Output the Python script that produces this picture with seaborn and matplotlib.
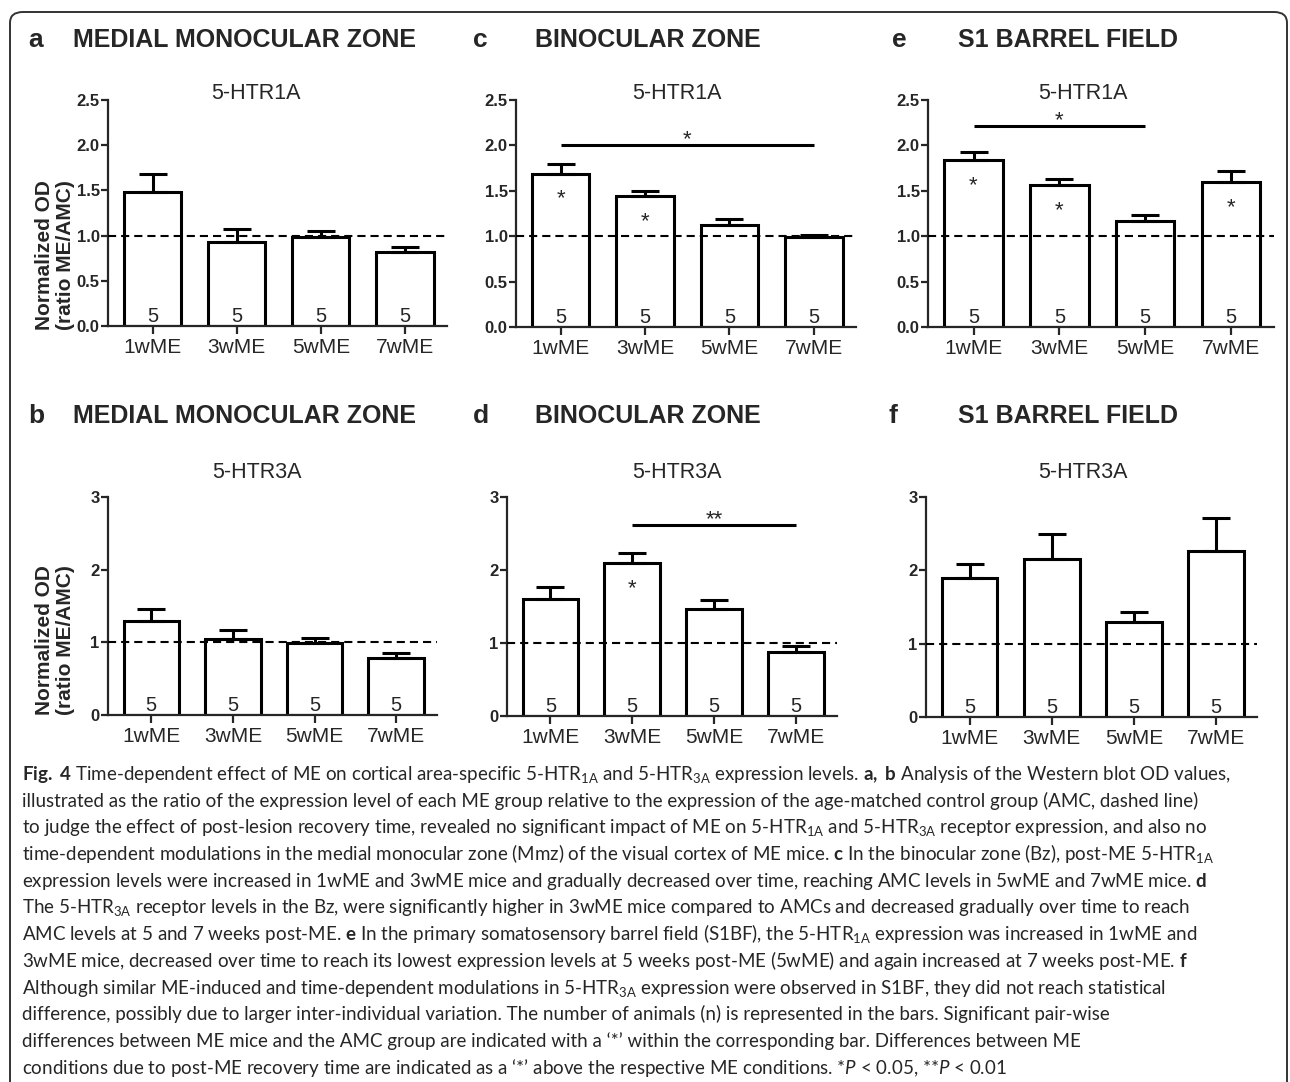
import numpy as np
import matplotlib.pyplot as plt
import seaborn as sns
from matplotlib.patches import FancyBboxPatch

groups = ['1wME', '3wME', '5wME', '7wME']
n_animals = [5, 5, 5, 5]

# 5-HTR1A (top row), normalized OD ratio ME/AMC, mean and SEM
mmz_1a_mean = [1.48, 0.93, 0.99, 0.82]
mmz_1a_sem = [0.20, 0.14, 0.065, 0.057]
bz_1a_mean = [1.69, 1.44, 1.12, 0.99]
bz_1a_sem = [0.105, 0.06, 0.065, 0.02]
s1_1a_mean = [1.84, 1.56, 1.17, 1.60]
s1_1a_sem = [0.09, 0.075, 0.063, 0.12]

# 5-HTR3A (bottom row)
mmz_3a_mean = [1.30, 1.04, 0.99, 0.79]
mmz_3a_sem = [0.165, 0.13, 0.07, 0.06]
bz_3a_mean = [1.60, 2.10, 1.46, 0.88]
bz_3a_sem = [0.17, 0.13, 0.135, 0.077]
s1_3a_mean = [1.90, 2.15, 1.30, 2.27]
s1_3a_sem = [0.19, 0.34, 0.135, 0.44]

# bars with a '*' (ME vs AMC)
bz_1a_sig = [0, 1]
s1_1a_sig = [0, 1, 3]
bz_3a_sig = [1]

# recovery time comparisons: first bar, last bar, level, label
bz_1a_bracket = (0, 3, 2.0, '*')
s1_1a_bracket = (0, 2, 2.21, '*')
bz_3a_bracket = (1, 3, 2.61, '**')

caption = [
    r"$\mathbf{Fig.\ 4}$ Time-dependent effect of ME on cortical area-specific 5-HTR$_{\mathregular{1A}}$ and 5-HTR$_{\mathregular{3A}}$ expression levels. $\mathbf{a,\ b}$ Analysis of the Western blot OD values,",
    "illustrated as the ratio of the expression level of each ME group relative to the expression of the age-matched control group (AMC, dashed line)",
    r"to judge the effect of post-lesion recovery time, revealed no significant impact of ME on 5-HTR$_{\mathregular{1A}}$ and 5-HTR$_{\mathregular{3A}}$ receptor expression, and also no",
    r"time-dependent modulations in the medial monocular zone (Mmz) of the visual cortex of ME mice. $\mathbf{c}$ In the binocular zone (Bz), post-ME 5-HTR$_{\mathregular{1A}}$",
    r"expression levels were increased in 1wME and 3wME mice and gradually decreased over time, reaching AMC levels in 5wME and 7wME mice. $\mathbf{d}$",
    r"The 5-HTR$_{\mathregular{3A}}$ receptor levels in the Bz, were significantly higher in 3wME mice compared to AMCs and decreased gradually over time to reach",
    r"AMC levels at 5 and 7 weeks post-ME. $\mathbf{e}$ In the primary somatosensory barrel field (S1BF), the 5-HTR$_{\mathregular{1A}}$ expression was increased in 1wME and",
    r"3wME mice, decreased over time to reach its lowest expression levels at 5 weeks post-ME (5wME) and again increased at 7 weeks post-ME. $\mathbf{f}$",
    r"Although similar ME-induced and time-dependent modulations in 5-HTR$_{\mathregular{3A}}$ expression were observed in S1BF, they did not reach statistical",
    "difference, possibly due to larger inter-individual variation. The number of animals (n) is represented in the bars. Significant pair-wise",
    "differences between ME mice and the AMC group are indicated with a \u2018*\u2019 within the corresponding bar. Differences between ME",
    "conditions due to post-ME recovery time are indicated as a \u2018*\u2019 above the respective ME conditions. *$\\mathit{P}$ < 0.05, **$\\mathit{P}$ < 0.01",
]

sns.set_style('ticks')
plt.rcParams['font.family'] = ['Liberation Sans', 'DejaVu Sans']
plt.rcParams['mathtext.fontset'] = 'custom'
plt.rcParams['mathtext.rm'] = 'Lato'
plt.rcParams['mathtext.bf'] = 'Lato:bold'
plt.rcParams['mathtext.it'] = 'Lato:italic'

W, H = 1290, 1082
fig = plt.figure(figsize=(W / 100, H / 100), dpi=100)


def fx(x):
    return x / W


def fy(y):
    return 1 - y / H


# letter, title, receptor, mean, sem, sig, bracket, box (px), ymax, title x, letter x, subtitle x, row
panels = [
    ('a', 'MEDIAL MONOCULAR ZONE', '5-HTR1A', mmz_1a_mean, mmz_1a_sem, [], None, (108, 447, 100, 326), 2.5, 73, 28, 256, 0),
    ('c', 'BINOCULAR ZONE', '5-HTR1A', bz_1a_mean, bz_1a_sem, bz_1a_sig, bz_1a_bracket, (516, 856, 100, 327), 2.5, 535, 473, 677, 0),
    ('e', 'S1 BARREL FIELD', '5-HTR1A', s1_1a_mean, s1_1a_sem, s1_1a_sig, s1_1a_bracket, (928, 1274, 100, 327), 2.5, 958, 892, 1083, 0),
    ('b', 'MEDIAL MONOCULAR ZONE', '5-HTR3A', mmz_3a_mean, mmz_3a_sem, [], None, (108, 437, 497, 715), 3, 73, 28, 257, 1),
    ('d', 'BINOCULAR ZONE', '5-HTR3A', bz_3a_mean, bz_3a_sem, bz_3a_sig, bz_3a_bracket, (507, 837, 497, 716), 3, 535, 473, 677, 1),
    ('f', 'S1 BARREL FIELD', '5-HTR3A', s1_3a_mean, s1_3a_sem, [], None, (926, 1257, 497, 717), 3, 958, 888, 1083, 1),
]

for (letter, title, rec, mean, sem, sig, bracket, box, ymax, tx, lx, rx, row) in panels:
    x0, x1, y0, y1 = box
    ax = fig.add_axes([fx(x0), fy(y1), (x1 - x0) / W, (y1 - y0) / H])
    sns.barplot(x=groups, y=mean, ax=ax, color='white', edgecolor='black',
                linewidth=2.2, width=0.68, saturation=1, errorbar=None)
    pos = np.arange(len(groups))
    ax.errorbar(pos, mean, yerr=[np.zeros(len(mean)), sem], fmt='none',
                ecolor='black', elinewidth=2.2, capsize=10, capthick=2.2, zorder=3)
    ax.axhline(1, color='black', lw=1.5, dashes=(3.9, 2.4), zorder=4)
    ax.set_xlim(-0.53, 3.5)
    ax.set_ylim(0, ymax)
    if ymax == 2.5:
        ax.set_yticks([0, 0.5, 1.0, 1.5, 2.0, 2.5])
        ax.set_yticklabels(['0.0', '0.5', '1.0', '1.5', '2.0', '2.5'])
    else:
        ax.set_yticks([0, 1, 2, 3])
        ax.set_yticklabels(['0', '1', '2', '3'])
    ax.set_xlabel('')
    ax.set_ylabel('')
    sns.despine(ax=ax)
    for s in ['left', 'bottom']:
        ax.spines[s].set_linewidth(1.6)
    ax.tick_params(axis='y', length=5, width=1.6, pad=1, labelsize=12)
    ax.tick_params(axis='x', length=6, width=1.6, pad=2.5, labelsize=15)
    for lab in ax.get_yticklabels():
        lab.set_fontweight('bold')

    for i, n in enumerate(n_animals):
        ax.annotate(str(n), xy=(i, 0), xytext=(0, 4), textcoords='offset pixels',
                    ha='center', va='baseline', fontsize=14.5)
    for i in sig:
        ax.annotate('*', xy=(i, mean[i]), xytext=(0, -31), textcoords='offset pixels',
                    ha='center', va='baseline', fontsize=16)
    if bracket is not None:
        b0, b1, lvl, lab = bracket
        ax.plot([b0, b1], [lvl, lvl], color='black', lw=2.2, solid_capstyle='butt')
        ax.annotate(lab, xy=((b0 + b1) / 2, lvl), xytext=(0, 0), textcoords='offset pixels',
                    ha='center', va='baseline', fontsize=16)

    base = 47 if row == 0 else 423
    fig.text(fx(lx), fy(base), letter, fontsize=19, fontweight='bold', va='baseline')
    fig.text(fx(tx), fy(base), title, fontsize=18, fontweight='bold', va='baseline')
    sub = 99 if row == 0 else 478
    fig.text(fx(rx), fy(sub), rec, ha='center', va='baseline', fontsize=15.5)

for yc in [255, 640]:
    fig.text(fx(55), fy(yc), 'Normalized OD\n(ratio ME/AMC)', rotation=90, ha='center',
             va='center', fontsize=15, fontweight='bold', linespacing=1.15)

for k, line in enumerate(caption):
    fig.text(fx(22), fy(780 + k * 26.7), line, family='Lato', fontsize=13.5,
             va='baseline', ha='left')

frame = FancyBboxPatch((fx(10), -0.05), fx(1287) - fx(10), fy(12) + 0.05,
                       boxstyle='round,pad=0,rounding_size=0.01', transform=fig.transFigure,
                       fill=False, lw=1.4, ec='#333333')
fig.patches.append(frame)

fig.savefig('out.png', dpi=100)
